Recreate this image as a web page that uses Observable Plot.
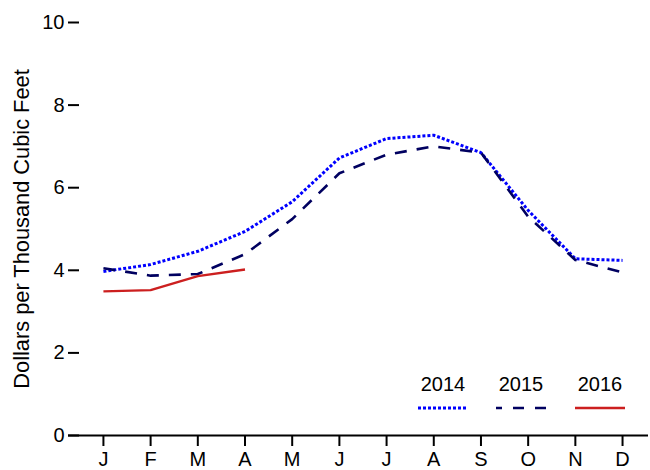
<!DOCTYPE html>
<html>
<head>
<meta charset="utf-8">
<script src="https://cdn.jsdelivr.net/npm/d3@7"></script>
<script src="https://cdn.jsdelivr.net/npm/@observablehq/plot@0.6"></script>
<style>
  html, body { margin: 0; padding: 0; background: #fff; }
  #wrap { position: relative; width: 650px; height: 470px; font-family: "Liberation Sans", Arial, sans-serif; }
  #legend { position: absolute; left: 0; top: 0; width: 650px; height: 470px; pointer-events: none; }
</style>
</head>
<body>
<div id="wrap"></div>
<script>
const months = ["J","F","M","A","M","J","J","A","S","O","N","D"];
const seriesNames = ["2014", "2015", "2016"];
const v2014 = [3.97, 4.14, 4.46, 4.94, 5.66, 6.72, 7.19, 7.27, 6.85, 5.45, 4.28, 4.24];
const v2015 = [4.05, 3.87, 3.91, 4.39, 5.24, 6.35, 6.80, 7.00, 6.85, 5.30, 4.25, 3.95];
const v2016 = [3.49, 3.52, 3.86, 4.02];
const yTicks = [0, 2, 4, 6, 8, 10];
const yLabel = "Dollars per Thousand Cubic Feet";

const colors = {"2014": "#0000ff", "2015": "#000060", "2016": "#cc1f1f"};
const dashes = {"2014": "3,2", "2015": "12,10", "2016": null};
const widths = {"2014": 3, "2015": 2.6, "2016": 2.4};

const toRows = (vals) => vals.map((v, i) => ({m: i, v}));
const data = {"2014": toRows(v2014), "2015": toRows(v2015), "2016": toRows(v2016)};

const font = "Liberation Sans, Arial, sans-serif";

const chart = Plot.plot({
  width: 650,
  height: 470,
  marginLeft: 68,
  marginRight: 2,
  marginTop: 22,
  marginBottom: 35,
  style: {fontFamily: font, fontSize: "20px", color: "#000", background: "#fff"},
  x: {type: "linear", domain: [-0.74, 11.55]},
  y: {domain: [0, 10]},
  marks: [
    Plot.axisY({ticks: yTicks, tickSize: 0, tickPadding: 4, fontSize: 20, label: null}),
    Plot.axisY({ticks: yTicks, tickSize: -11, strokeWidth: 2, tickFormat: () => "", label: null}),
    Plot.text([yLabel], {frameAnchor: "left", dx: -46, rotate: -90, textAnchor: "middle", lineAnchor: "middle", fontSize: 21.8, fill: "#000"}),
    Plot.axisX({ticks: d3.range(12), tickSize: 11, strokeWidth: 2, tickPadding: 5, fontSize: 20, tickFormat: (d) => months[d], label: null}),
    Plot.ruleY([0], {strokeWidth: 2, stroke: "#000"}),
    ...seriesNames.map((s) => Plot.line(data[s], {
      x: "m", y: "v",
      stroke: colors[s],
      strokeWidth: widths[s],
      strokeDasharray: dashes[s],
      strokeLinecap: "butt"
    }))
  ]
});

const wrap = document.getElementById("wrap");
wrap.appendChild(chart);

// Legend overlay (bottom-right inside the plot area)
const legendX = [443, 521, 600];
const ns = "http://www.w3.org/2000/svg";
const leg = document.createElementNS(ns, "svg");
leg.setAttribute("id", "legend");
leg.setAttribute("width", 650);
leg.setAttribute("height", 470);
seriesNames.forEach((s, i) => {
  const cx = legendX[i];
  const t = document.createElementNS(ns, "text");
  t.setAttribute("x", cx);
  t.setAttribute("y", 391);
  t.setAttribute("text-anchor", "middle");
  t.setAttribute("font-family", font);
  t.setAttribute("font-size", "20");
  t.setAttribute("fill", "#000");
  t.textContent = s;
  leg.appendChild(t);
  const l = document.createElementNS(ns, "line");
  l.setAttribute("x1", cx - 25);
  l.setAttribute("x2", cx + 25);
  l.setAttribute("y1", 408);
  l.setAttribute("y2", 408);
  l.setAttribute("stroke", colors[s]);
  l.setAttribute("stroke-width", widths[s]);
  if (dashes[s]) l.setAttribute("stroke-dasharray", s === "2015" ? "6,11,11,11,11" : dashes[s]);
  leg.appendChild(l);
});
wrap.appendChild(leg);
</script>
</body>
</html>
